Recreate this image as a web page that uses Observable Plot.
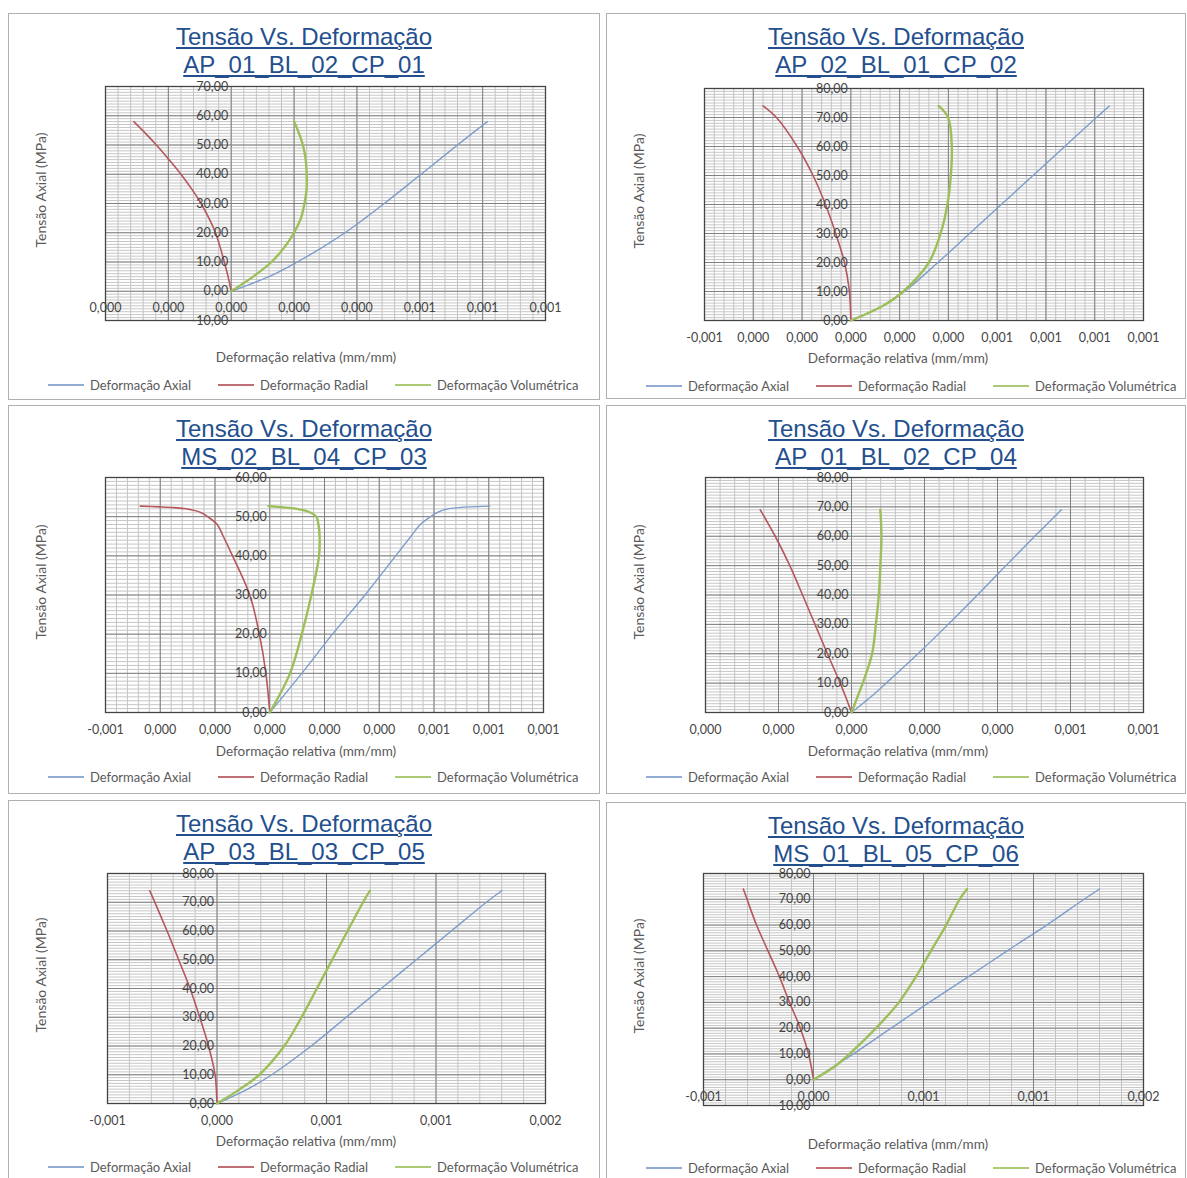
<!DOCTYPE html>
<html>
<head>
<meta charset="utf-8">
<script src="https://cdn.jsdelivr.net/npm/d3@7"></script>
<script src="https://cdn.jsdelivr.net/npm/@observablehq/plot@0.6"></script>
<style>
  html, body { margin: 0; padding: 0; background: #fff; }
  body { position: relative; width: 1187px; height: 1178px; overflow: hidden; font-family: Lato, "Open Sans", sans-serif; }
  .panel { position: absolute; box-sizing: border-box; border: 1.5px solid #b0b0b0; background: #fff; }
  .plotwrap { position: absolute; }
  .title { position: absolute; text-align: center; font-family: "Liberation Sans", Arial, sans-serif; font-size: 24px; line-height: 28px; color: #234f8e; text-decoration: underline; text-decoration-thickness: 1.5px; text-underline-offset: 2px; white-space: nowrap; }
  .xtitle { position: absolute; text-align: center; font-size: 13.5px; color: #595959; white-space: nowrap; }
  .ytitle { position: absolute; font-size: 14px; color: #595959; white-space: nowrap; transform: translate(-50%, -50%) rotate(-90deg); }
  .legend { position: absolute; display: flex; gap: 27px; font-size: 13px; color: #595959; white-space: nowrap; align-items: center; }
  .legend .item { display: flex; align-items: center; }
  .legend .swatch { display: inline-block; width: 36px; height: 2px; margin-right: 6px; opacity: 0.85; }
</style>
</head>
<body>
<script>
// ---------- series ----------
const seriesNames = ["Deformação Axial", "Deformação Radial", "Deformação Volumétrica"];
const seriesColors = ["#7c9dcc", "#b5575c", "#9dbf5a"];
const chartTitle = "Tensão Vs. Deformação";
const yAxisTitle = "Tensão Axial (MPa)";
const xAxisTitle = "Deformação relativa (mm/mm)";

// ---------- panel 1: AP_01_BL_02_CP_01 ----------
const p1Stress = [0, 5, 10, 15, 20, 25, 30, 35, 40, 45, 50, 55, 58];
const p1Axial  = [0, 0.00012, 0.00021, 0.00029, 0.000362, 0.000426, 0.000487, 0.000546, 0.000604, 0.000662, 0.00072, 0.000779, 0.000815];
const p1Radial = [0, -0.00001, -0.000022, -0.000035, -0.00005, -0.000071, -0.000096, -0.000126, -0.00016, -0.000198, -0.000238, -0.000282, -0.00031];
const p1Vol    = [0, 0.00007, 0.000128, 0.000169, 0.0002, 0.000222, 0.000233, 0.00024, 0.00024, 0.000237, 0.000228, 0.000212, 0.0002];
const p1XTicks = [-0.0004, -0.0002, 0, 0.0002, 0.0004, 0.0006, 0.0008, 0.001];
const p1YTicks = [-10, 0, 10, 20, 30, 40, 50, 60, 70];

// ---------- panel 2: AP_02_BL_01_CP_02 ----------
const p2Stress = [0, 5, 10, 20, 30, 40, 50, 60, 70, 74];
const p2Axial  = [0, 0.00013, 0.00022, 0.000357, 0.000487, 0.000617, 0.000747, 0.000877, 0.001007, 0.00106];
const p2Radial = [0, -0.000002, -0.000006, -0.000026, -0.000062, -0.000104, -0.000155, -0.00022, -0.000305, -0.00036];
const p2Vol    = [0, 0.00013, 0.000215, 0.00032, 0.000368, 0.000396, 0.00041, 0.000414, 0.000399, 0.00036];
const p2XTicks = [-0.0006, -0.0004, -0.0002, 0, 0.0002, 0.0004, 0.0006, 0.0008, 0.001, 0.0012];
const p2YTicks = [0, 10, 20, 30, 40, 50, 60, 70, 80];

// ---------- panel 3: MS_02_BL_04_CP_03 ----------
const p3Stress = [0, 10, 20, 30, 40, 45, 48, 50, 51, 52, 52.3, 52.5, 52.7];
const p3Axial  = [0, 0.000117, 0.000229, 0.000348, 0.00046, 0.000516, 0.00055, 0.000587, 0.00061, 0.00065, 0.00069, 0.00073, 0.000804];
const p3Radial = [0, -0.000014, -0.000038, -0.000073, -0.000136, -0.00017, -0.000192, -0.000227, -0.00025, -0.000305, -0.00035, -0.000403, -0.000473];
const p3Vol    = [0, 0.000074, 0.000117, 0.000152, 0.00018, 0.000182, 0.000178, 0.00017, 0.00015, 0.0001, 0.00006, 0.00003, -0.000005];
const p3XTicks = [-0.0006, -0.0004, -0.0002, 0, 0.0002, 0.0004, 0.0006, 0.0008, 0.001];
const p3YTicks = [0, 10, 20, 30, 40, 50, 60];

// ---------- panel 4: AP_01_BL_02_CP_04 ----------
const p4Stress = [0, 5, 10, 20, 30, 40, 50, 60, 69];
const p4Axial  = [0, 0.00005, 0.000095, 0.000182, 0.000265, 0.000345, 0.000423, 0.000502, 0.000575];
const p4Radial = [0, -0.000015, -0.000031, -0.000066, -0.0001, -0.000134, -0.000169, -0.000209, -0.00025];
const p4Vol    = [0, 0.0000154, 0.0000308, 0.0000564, 0.0000667, 0.0000749, 0.000079, 0.000082, 0.000079];
const p4XTicks = [-0.0004, -0.0002, 0, 0.0002, 0.0004, 0.0006, 0.0008];
const p4YTicks = [0, 10, 20, 30, 40, 50, 60, 70, 80];

// ---------- panel 5: AP_03_BL_03_CP_05 ----------
const p5Stress = [0, 5, 10, 20, 30, 40, 50, 60, 70, 74];
const p5Axial  = [0, 0.00014, 0.00025, 0.00043, 0.00059, 0.00075, 0.00091, 0.00107, 0.00123, 0.0013];
const p5Radial = [0, -0.000003, -0.0000088, -0.0000386, -0.000079, -0.000123, -0.000175, -0.000228, -0.000284, -0.000307];
const p5Vol    = [0, 0.000105, 0.000193, 0.000307, 0.000386, 0.000456, 0.000526, 0.000596, 0.000667, 0.000698];
const p5XTicks = [-0.0005, 0, 0.0005, 0.001, 0.0015];
const p5YTicks = [0, 10, 20, 30, 40, 50, 60, 70, 80];

// ---------- panel 6: MS_01_BL_05_CP_06 ----------
const p6Stress = [0, 5, 10, 20, 30, 40, 50, 60, 70, 74];
const p6Axial  = [0, 0.00009, 0.000181, 0.000353, 0.000526, 0.000705, 0.00088, 0.00106, 0.00123, 0.0013];
const p6Radial = [0, -0.00001, -0.0000224, -0.00006, -0.000109, -0.000155, -0.000207, -0.000259, -0.000302, -0.000319];
const p6Vol    = [0, 0.000095, 0.000164, 0.000284, 0.000388, 0.000466, 0.000534, 0.000603, 0.000664, 0.000698];
const p6XTicks = [-0.0005, 0, 0.0005, 0.001, 0.0015];
const p6YTicks = [-10, 0, 10, 20, 30, 40, 50, 60, 70, 80];

// ---------- layout ----------
const panels = [
  {id: "AP_01_BL_02_CP_01", box: [8, 13, 600, 400], frame: [105, 86, 545, 320], xDomain: [-0.0004, 0.001], yDomain: [-10, 70],
   stress: p1Stress, data: [p1Axial, p1Radial, p1Vol], xTicks: p1XTicks, yTicks: p1YTicks, xTitleY: 358, legendY: 385},
  {id: "AP_02_BL_01_CP_02", box: [606, 13, 1186, 399], frame: [704, 88, 1143, 320], xDomain: [-0.0006, 0.0012], yDomain: [0, 80],
   stress: p2Stress, data: [p2Axial, p2Radial, p2Vol], xTicks: p2XTicks, yTicks: p2YTicks, xTitleY: 359, legendY: 386},
  {id: "MS_02_BL_04_CP_03", box: [8, 405, 600, 794], frame: [105, 477, 543, 712], xDomain: [-0.0006, 0.001], yDomain: [0, 60],
   stress: p3Stress, data: [p3Axial, p3Radial, p3Vol], xTicks: p3XTicks, yTicks: p3YTicks, xTitleY: 752, legendY: 777},
  {id: "AP_01_BL_02_CP_04", box: [606, 405, 1186, 794], frame: [705, 477, 1143, 712], xDomain: [-0.0004, 0.0008], yDomain: [0, 80],
   stress: p4Stress, data: [p4Axial, p4Radial, p4Vol], xTicks: p4XTicks, yTicks: p4YTicks, xTitleY: 752, legendY: 777},
  {id: "AP_03_BL_03_CP_05", box: [8, 800, 600, 1180], frame: [107, 873, 545, 1103], xDomain: [-0.0005, 0.0015], yDomain: [0, 80],
   stress: p5Stress, data: [p5Axial, p5Radial, p5Vol], xTicks: p5XTicks, yTicks: p5YTicks, xTitleY: 1142, legendY: 1167},
  {id: "MS_01_BL_05_CP_06", box: [606, 802, 1186, 1180], frame: [703, 873, 1143, 1105], xDomain: [-0.0005, 0.0015], yDomain: [-10, 80],
   stress: p6Stress, data: [p6Axial, p6Radial, p6Vol], xTicks: p6XTicks, yTicks: p6YTicks, xTitleY: 1145, legendY: 1168}
];

const seriesWidths = [1.4, 1.6, 2.4];

function fmtX(v) {
  const r = Math.sign(v) * Math.round(Math.abs(v) * 1000 + 1e-9) / 1000;
  return r.toFixed(3).replace(".", ",");
}
function fmtY(v) { return v.toFixed(2).replace(".", ","); }

function el(tag, cls, style, html) {
  const e = document.createElement(tag);
  if (cls) e.className = cls;
  Object.assign(e.style, style || {});
  if (html !== undefined) e.innerHTML = html;
  document.body.appendChild(e);
  return e;
}

for (const p of panels) {
  const [bx0, by0, bx1, by1] = p.box;
  const [fx0, fy0, fx1, fy1] = p.frame;
  const W = bx1 - bx0, H = by1 - by0;

  el("div", "panel", {left: bx0 + "px", top: by0 + "px", width: W + "px", height: H + "px"});

  const xStep = p.xTicks[1] - p.xTicks[0];
  const minorX = d3.range(0, Math.round((p.xDomain[1] - p.xDomain[0]) / (xStep / 5)) + 1).map(i => p.xDomain[0] + i * xStep / 5);
  const minorY = d3.range(p.yDomain[0], p.yDomain[1] + 0.5, 1);

  const rows = [];
  p.data.forEach((arr, si) => arr.forEach((x, i) => rows.push({s: seriesNames[si], x, y: p.stress[i]})));

  const marks = [
    Plot.ruleX(minorX, {stroke: "#c2c2c2", strokeWidth: 1}),
    Plot.ruleY(minorY, {stroke: "#c6c6c6", strokeWidth: 1}),
    Plot.ruleX(p.xTicks, {stroke: "#808080", strokeWidth: 1}),
    Plot.ruleY(p.yTicks, {stroke: "#808080", strokeWidth: 1}),
    Plot.frame({stroke: "#444", strokeWidth: 1.3})
  ];
  seriesNames.forEach((name, si) => {
    marks.push(Plot.line(rows.filter(r => r.s === name), {x: "x", y: "y", stroke: seriesColors[si], strokeWidth: seriesWidths[si], curve: "catmull-rom"}));
  });
  marks.push(Plot.text(p.yTicks, {x: () => 0, y: d => d, text: d => fmtY(d), textAnchor: "end", dx: -3, fontSize: 12.5, fill: "#454545", fontFamily: "Lato"}));
  marks.push(Plot.text(p.xTicks, {x: d => d, y: () => 0, text: d => fmtX(d), dy: 17, fontSize: 12.5, fill: "#454545", fontFamily: "Lato"}));

  const svg = Plot.plot({
    width: W, height: H,
    marginLeft: fx0 - bx0, marginTop: fy0 - by0, marginRight: bx1 - fx1, marginBottom: by1 - fy1,
    x: {domain: p.xDomain, axis: null},
    y: {domain: p.yDomain, axis: null},
    style: {background: "transparent", overflow: "visible", fontFamily: "Lato"},
    marks
  });
  const wrap = el("div", "plotwrap", {left: bx0 + "px", top: by0 + "px", width: W + "px", height: H + "px"});
  wrap.appendChild(svg);

  el("div", "title", {left: bx0 + "px", width: W + "px", top: (by0 + 10) + "px"}, chartTitle + "<br>" + p.id);
  el("div", "xtitle", {left: (bx0 + 2) + "px", width: W + "px", top: (p.xTitleY - 9) + "px"}, xAxisTitle);
  el("div", "ytitle", {left: (bx0 + 32) + "px", top: ((fy0 + fy1) / 2 - 13) + "px"}, yAxisTitle);
  const lg = el("div", "legend", {left: (bx0 + 40) + "px", top: (p.legendY - 9) + "px", height: "18px"});
  seriesNames.forEach((name, si) => {
    const it = document.createElement("div");
    it.className = "item";
    it.innerHTML = `<span class="swatch" style="background:${seriesColors[si]}"></span><span>${name}</span>`;
    lg.appendChild(it);
  });
}
</script>
</body>
</html>
